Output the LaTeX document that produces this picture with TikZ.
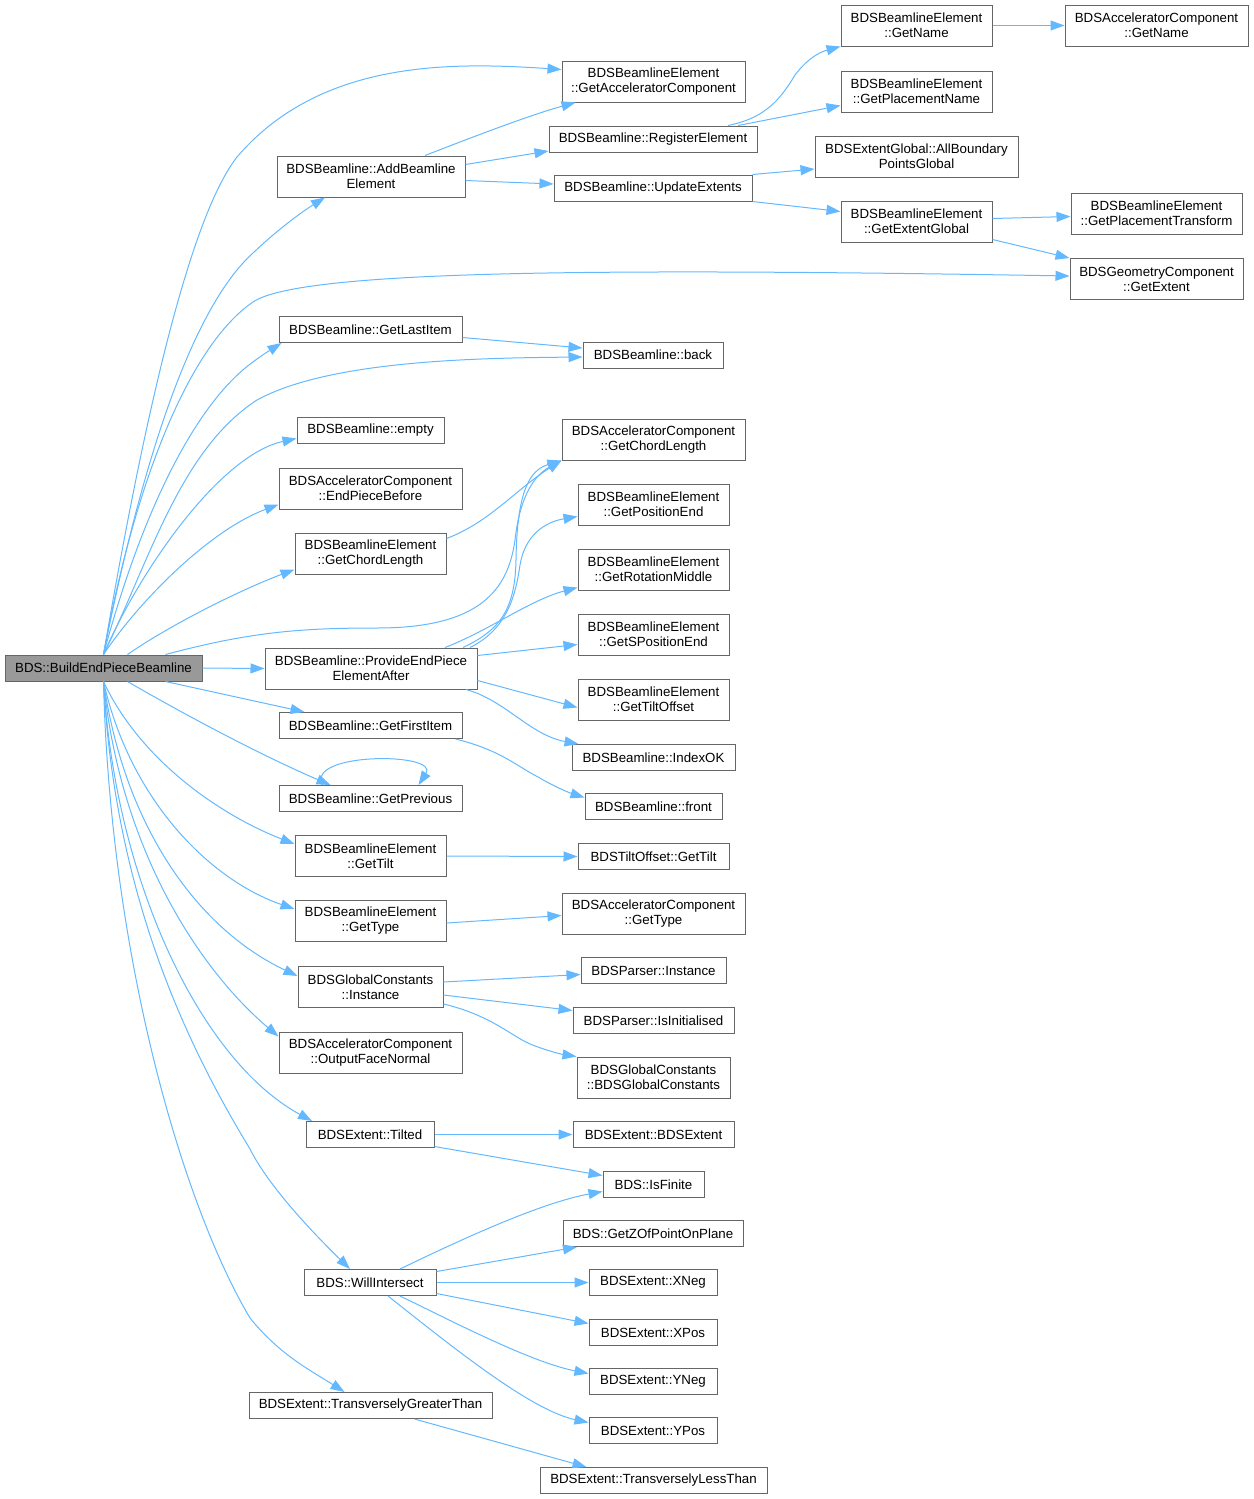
\documentclass[tikz,border=0pt]{standalone}
\usepackage{fontspec}
\setmainfont{Liberation Sans}
\usetikzlibrary{arrows.meta}
\definecolor{edgeblue}{HTML}{63B8FF}
\definecolor{boxgray}{HTML}{666666}
\definecolor{rootfill}{HTML}{999999}
\begin{document}
\begin{tikzpicture}[x=1pt, y=-1pt,
    fn/.style={draw=boxgray, line width=1pt, inner sep=0pt, align=center,
      font=\fontsize{13.3}{15}\selectfont},
    one/.style={fn, minimum height=26pt},
    two/.style={fn, minimum height=41pt},
    call/.style={draw=edgeblue, line width=1pt, -{Triangle[length=14pt,width=10pt]}}]
  \useasboundingbox (0,0) rectangle (1253,1499);

  \node[one, fill=rootfill, minimum width=197pt] (root) at (103.5,668) {BDS::BuildEndPieceBeamline};

  \node[two, minimum width=188pt] (addbl) at (371,176.5) {BDSBeamline::AddBeamline\\Element};
  \node[two, minimum width=183pt] (getacc) at (653.5,81.5) {BDSBeamlineElement\\::GetAcceleratorComponent};
  \node[one, minimum width=208pt] (regel) at (653,139) {BDSBeamline::RegisterElement};
  \node[one, minimum width=198pt] (updext) at (653,188) {BDSBeamline::UpdateExtents};
  \node[two, minimum width=151pt] (bename) at (916.5,25.5) {BDSBeamlineElement\\::GetName};
  \node[two, minimum width=183pt] (accname) at (1156.5,25.5) {BDSAcceleratorComponent\\::GetName};
  \node[two, minimum width=151pt] (beplname) at (916.5,91.5) {BDSBeamlineElement\\::GetPlacementName};
  \node[two, minimum width=203pt] (allbnd) at (916.5,156.5) {BDSExtentGlobal::AllBoundary\\PointsGlobal};
  \node[two, minimum width=151pt] (extglob) at (916.5,221.5) {BDSBeamlineElement\\::GetExtentGlobal};
  \node[two, minimum width=171pt] (pltrans) at (1156.5,213.5) {BDSBeamlineElement\\::GetPlacementTransform};
  \node[two, minimum width=173pt] (geomext) at (1156.5,279) {BDSGeometryComponent\\::GetExtent};

  \node[one, minimum width=183pt] (lastitem) at (370.5,329.5) {BDSBeamline::GetLastItem};
  \node[one, minimum width=140pt] (back) at (653,355) {BDSBeamline::back};
  \node[one, minimum width=147pt] (empty) at (370.5,430.5) {BDSBeamline::empty};
  \node[two, minimum width=183pt] (endpiece) at (370.5,488.5) {BDSAcceleratorComponent\\::EndPieceBefore};
  \node[two, minimum width=151pt] (bechord) at (370.5,553.5) {BDSBeamlineElement\\::GetChordLength};
  \node[two, minimum width=183pt] (accchord) at (653.5,439.5) {BDSAcceleratorComponent\\::GetChordLength};
  \node[two, minimum width=151pt] (posend) at (653.5,504.5) {BDSBeamlineElement\\::GetPositionEnd};
  \node[two, minimum width=151pt] (rotmid) at (653.5,569.5) {BDSBeamlineElement\\::GetRotationMiddle};
  \node[two, minimum width=151pt] (sposend) at (653.5,634.5) {BDSBeamlineElement\\::GetSPositionEnd};
  \node[two, minimum width=212pt] (provide) at (371,668.5) {BDSBeamline::ProvideEndPiece\\ElementAfter};
  \node[two, minimum width=151pt] (tiltoff) at (653.5,699.5) {BDSBeamlineElement\\::GetTiltOffset};
  \node[one, minimum width=163pt] (indexok) at (653.5,757.5) {BDSBeamline::IndexOK};
  \node[one, minimum width=183pt] (firstitem) at (370.5,725.5) {BDSBeamline::GetFirstItem};
  \node[one, minimum width=137pt] (front) at (653.5,806.5) {BDSBeamline::front};
  \node[one, minimum width=183pt] (previous) at (370.5,798.5) {BDSBeamline::GetPrevious};

  \node[two, minimum width=151pt] (betilt) at (370.5,856) {BDSBeamlineElement\\::GetTilt};
  \node[one, minimum width=151pt] (tiltget) at (653.5,856.5) {BDSTiltOffset::GetTilt};
  \node[two, minimum width=151pt] (betype) at (370.5,921) {BDSBeamlineElement\\::GetType};
  \node[two, minimum width=183pt] (acctype) at (653.5,913.5) {BDSAcceleratorComponent\\::GetType};
  \node[two, minimum width=145pt] (gcinst) at (370.5,987) {BDSGlobalConstants\\::Instance};
  \node[one, minimum width=145pt] (parinst) at (653.5,970.5) {BDSParser::Instance};
  \node[one, minimum width=161pt] (parinit) at (653.5,1020.5) {BDSParser::IsInitialised};
  \node[two, minimum width=153pt] (gcctor) at (653.5,1077.5) {BDSGlobalConstants\\::BDSGlobalConstants};
  \node[two, minimum width=183pt] (outface) at (370.5,1052.5) {BDSAcceleratorComponent\\::OutputFaceNormal};
  \node[one, minimum width=128pt] (tilted) at (370,1134.5) {BDSExtent::Tilted};
  \node[one, minimum width=161pt] (extctor) at (653.5,1134.5) {BDSExtent::BDSExtent};
  \node[one, minimum width=101pt] (isfinite) at (653.5,1184.5) {BDS::IsFinite};
  \node[one, minimum width=180pt] (zplane) at (653,1233.5) {BDS::GetZOfPointOnPlane};
  \node[one, minimum width=132pt] (willint) at (370,1282.5) {BDS::WillIntersect};
  \node[one, minimum width=128pt] (xneg) at (653,1282.5) {BDSExtent::XNeg};
  \node[one, minimum width=128pt] (xpos) at (653,1332.5) {BDSExtent::XPos};
  \node[one, minimum width=128pt] (yneg) at (653,1381.5) {BDSExtent::YNeg};
  \node[one, minimum width=128pt] (ypos) at (653,1430.5) {BDSExtent::YPos};
  \node[one, minimum width=243pt] (tgreater) at (370.5,1405.5) {BDSExtent::TransverselyGreaterThan};
  \node[one, minimum width=227pt] (tless) at (653.5,1480.5) {BDSExtent::TransverselyLessThan};

  \draw[call] (root.north) .. controls (130,500) and (180,230) .. (237,157) .. controls (320,60) and (450,62) .. ([yshift=12pt]getacc.west);
  \draw[call] (root.north) .. controls (135,480) and (190,345) .. (253,302) .. controls (300,270) and (600,268) .. ([yshift=3pt]geomext.west);
  \draw[call] (root.north) .. controls (140,470) and (190,310) .. (253,253) .. controls (275,232) and (300,213) .. ([xshift=-46pt]addbl.south);
  \draw[call] (root.north) .. controls (145,500) and (200,400) .. (253,362) .. controls (262,355) and (272,349) .. ([xshift=3pt]lastitem.south west);
  \draw[call] (root.north) .. controls (150,560) and (180,450) .. (257,400) .. controls (330,360) and (480,358) .. ([yshift=-2pt]back.west);
  \draw[call] (root.north) .. controls (140,570) and (220,455) .. ([yshift=-8pt]empty.west);
  \draw[call] (root.north) .. controls (140,600) and (210,530) .. ([yshift=-16pt]endpiece.west);
  \draw[call] ([xshift=24pt]root.north) .. controls (170,625) and (240,590) .. ([yshift=-16pt]bechord.west);
  \draw[call] ([xshift=62pt]root.north) .. controls (250,632) and (300,628) .. (377,628) .. controls (480,628) and (508,590) .. (515,540) .. controls (520,495) and (535,475) .. (accchord.south west);
  \draw[call] (root.east) -- (provide.west);
  \draw[call] ([xshift=62pt]root.south) -- ([xshift=-66pt]firstitem.north);
  \draw[call] ([xshift=24pt]root.south) .. controls (180,712) and (260,755) .. ([xshift=-40pt]previous.north);
  \draw[call] (root.south) .. controls (140,760) and (220,815) .. ([yshift=12pt]betilt.west);
  \draw[call] (root.south) .. controls (130,800) and (210,880) .. ([yshift=12pt]betype.west);
  \draw[call] (root.south) .. controls (125,830) and (200,930) .. ([yshift=11pt]gcinst.west);
  \draw[call] (root.south) .. controls (120,850) and (200,970) .. ([yshift=16pt]outface.west);
  \draw[call] (root.south) .. controls (115,880) and (200,1060) .. ([xshift=-58pt]tilted.north);
  \draw[call] (root.south) .. controls (115,900) and (190,1050) .. (250,1149) .. controls (268,1185) and (310,1230) .. ([xshift=-20pt]willint.north);
  \draw[call] (root.south) .. controls (110,950) and (180,1200) .. (250,1318) .. controls (280,1355) and (310,1370) .. ([xshift=-26pt]tgreater.north);

  \draw[call] ([xshift=54pt]addbl.north) .. controls (470,138) and (530,115) .. ([xshift=-78pt]getacc.south);
  \draw[call] ([yshift=12pt]addbl.east) -- ([yshift=-12pt]regel.west);
  \draw[call] ([yshift=-4pt]addbl.east) -- ([yshift=4pt]updext.west);
  \draw[call] ([xshift=75pt]regel.north) .. controls (765,118) and (780,100) .. (795,75) .. controls (808,58) and (820,52) .. (bename.south west);
  \draw[call] ([xshift=85pt]regel.north) -- ([yshift=-14pt]beplname.west);
  \draw[call] (bename.east) -- (accname.west);
  \draw[call] (updext.north east) -- ([yshift=-12.5pt]allbnd.west);
  \draw[call] (updext.south east) -- ([yshift=10pt]extglob.west);
  \draw[call] ([yshift=3pt]extglob.east) -- ([yshift=-3pt]pltrans.west);
  \draw[call] ([yshift=-18pt]extglob.east) -- (geomext.north west);

  \draw[call] ([yshift=-8pt]lastitem.east) -- ([yshift=7pt]back.west);
  \draw[call] ([yshift=15pt]bechord.east) .. controls (490,522) and (515,490) .. (accchord.south west);
  \draw[call] ([xshift=92pt]provide.north) .. controls (500,630) and (515,610) .. (516,560) .. controls (517,490) and (530,470) .. (accchord.south west);
  \draw[call] ([xshift=99pt]provide.north) .. controls (505,630) and (515,600) .. (520,565) .. controls (525,535) and (545,522) .. ([yshift=-12pt]posend.west);
  \draw[call] ([xshift=74pt]provide.north) .. controls (490,630) and (530,600) .. ([yshift=-18pt]rotmid.west);
  \draw[call] ([yshift=13pt]provide.east) -- ([yshift=-10pt]sposend.west);
  \draw[call] ([yshift=-12pt]provide.east) -- ([yshift=-8pt]tiltoff.west);
  \draw[call] ([xshift=95pt]provide.south) .. controls (505,700) and (530,735) .. ([xshift=-75pt]indexok.north);
  \draw[call] ([xshift=85pt]firstitem.south) .. controls (500,750) and (515,765) .. (538,777) .. controls (555,787) and (570,793) .. ([yshift=9pt]front.west);
  \draw[call] ([xshift=-48pt]previous.north) .. controls (305,752) and (440,752) .. ([xshift=48pt]previous.north);

  \draw[call] (betilt.east) -- (tiltget.west);
  \draw[call] ([yshift=-2pt]betype.east) -- ([yshift=-2pt]acctype.west);
  \draw[call] ([yshift=5pt]gcinst.east) -- ([yshift=-4pt]parinst.west);
  \draw[call] ([yshift=-8pt]gcinst.east) -- ([yshift=10pt]parinit.west);
  \draw[call] ([yshift=-17pt]gcinst.east) .. controls (490,1015) and (510,1035) .. (530,1044) .. controls (545,1050) and (560,1054) .. (gcctor.north west);
  \draw[call] (tilted.east) -- (extctor.west);
  \draw[call] ([yshift=-12pt]tilted.east) -- ([yshift=9pt]isfinite.west);
  \draw[call] ([xshift=30pt]willint.north) .. controls (460,1240) and (540,1203) .. ([yshift=-7pt]isfinite.west);
  \draw[call] ([yshift=11pt]willint.east) -- ([xshift=-76pt]zplane.south);
  \draw[call] (willint.east) -- (xneg.west);
  \draw[call] ([yshift=-11pt]willint.east) -- ([yshift=9pt]xpos.west);
  \draw[call] ([xshift=30pt]willint.south) .. controls (450,1320) and (530,1362) .. ([yshift=8pt]yneg.west);
  \draw[call] ([xshift=18pt]willint.south) .. controls (450,1345) and (530,1410) .. ([yshift=8pt]ypos.west);
  \draw[call] ([xshift=44pt]tgreater.south) -- ([xshift=-67pt]tless.north);
\end{tikzpicture}
\end{document}
